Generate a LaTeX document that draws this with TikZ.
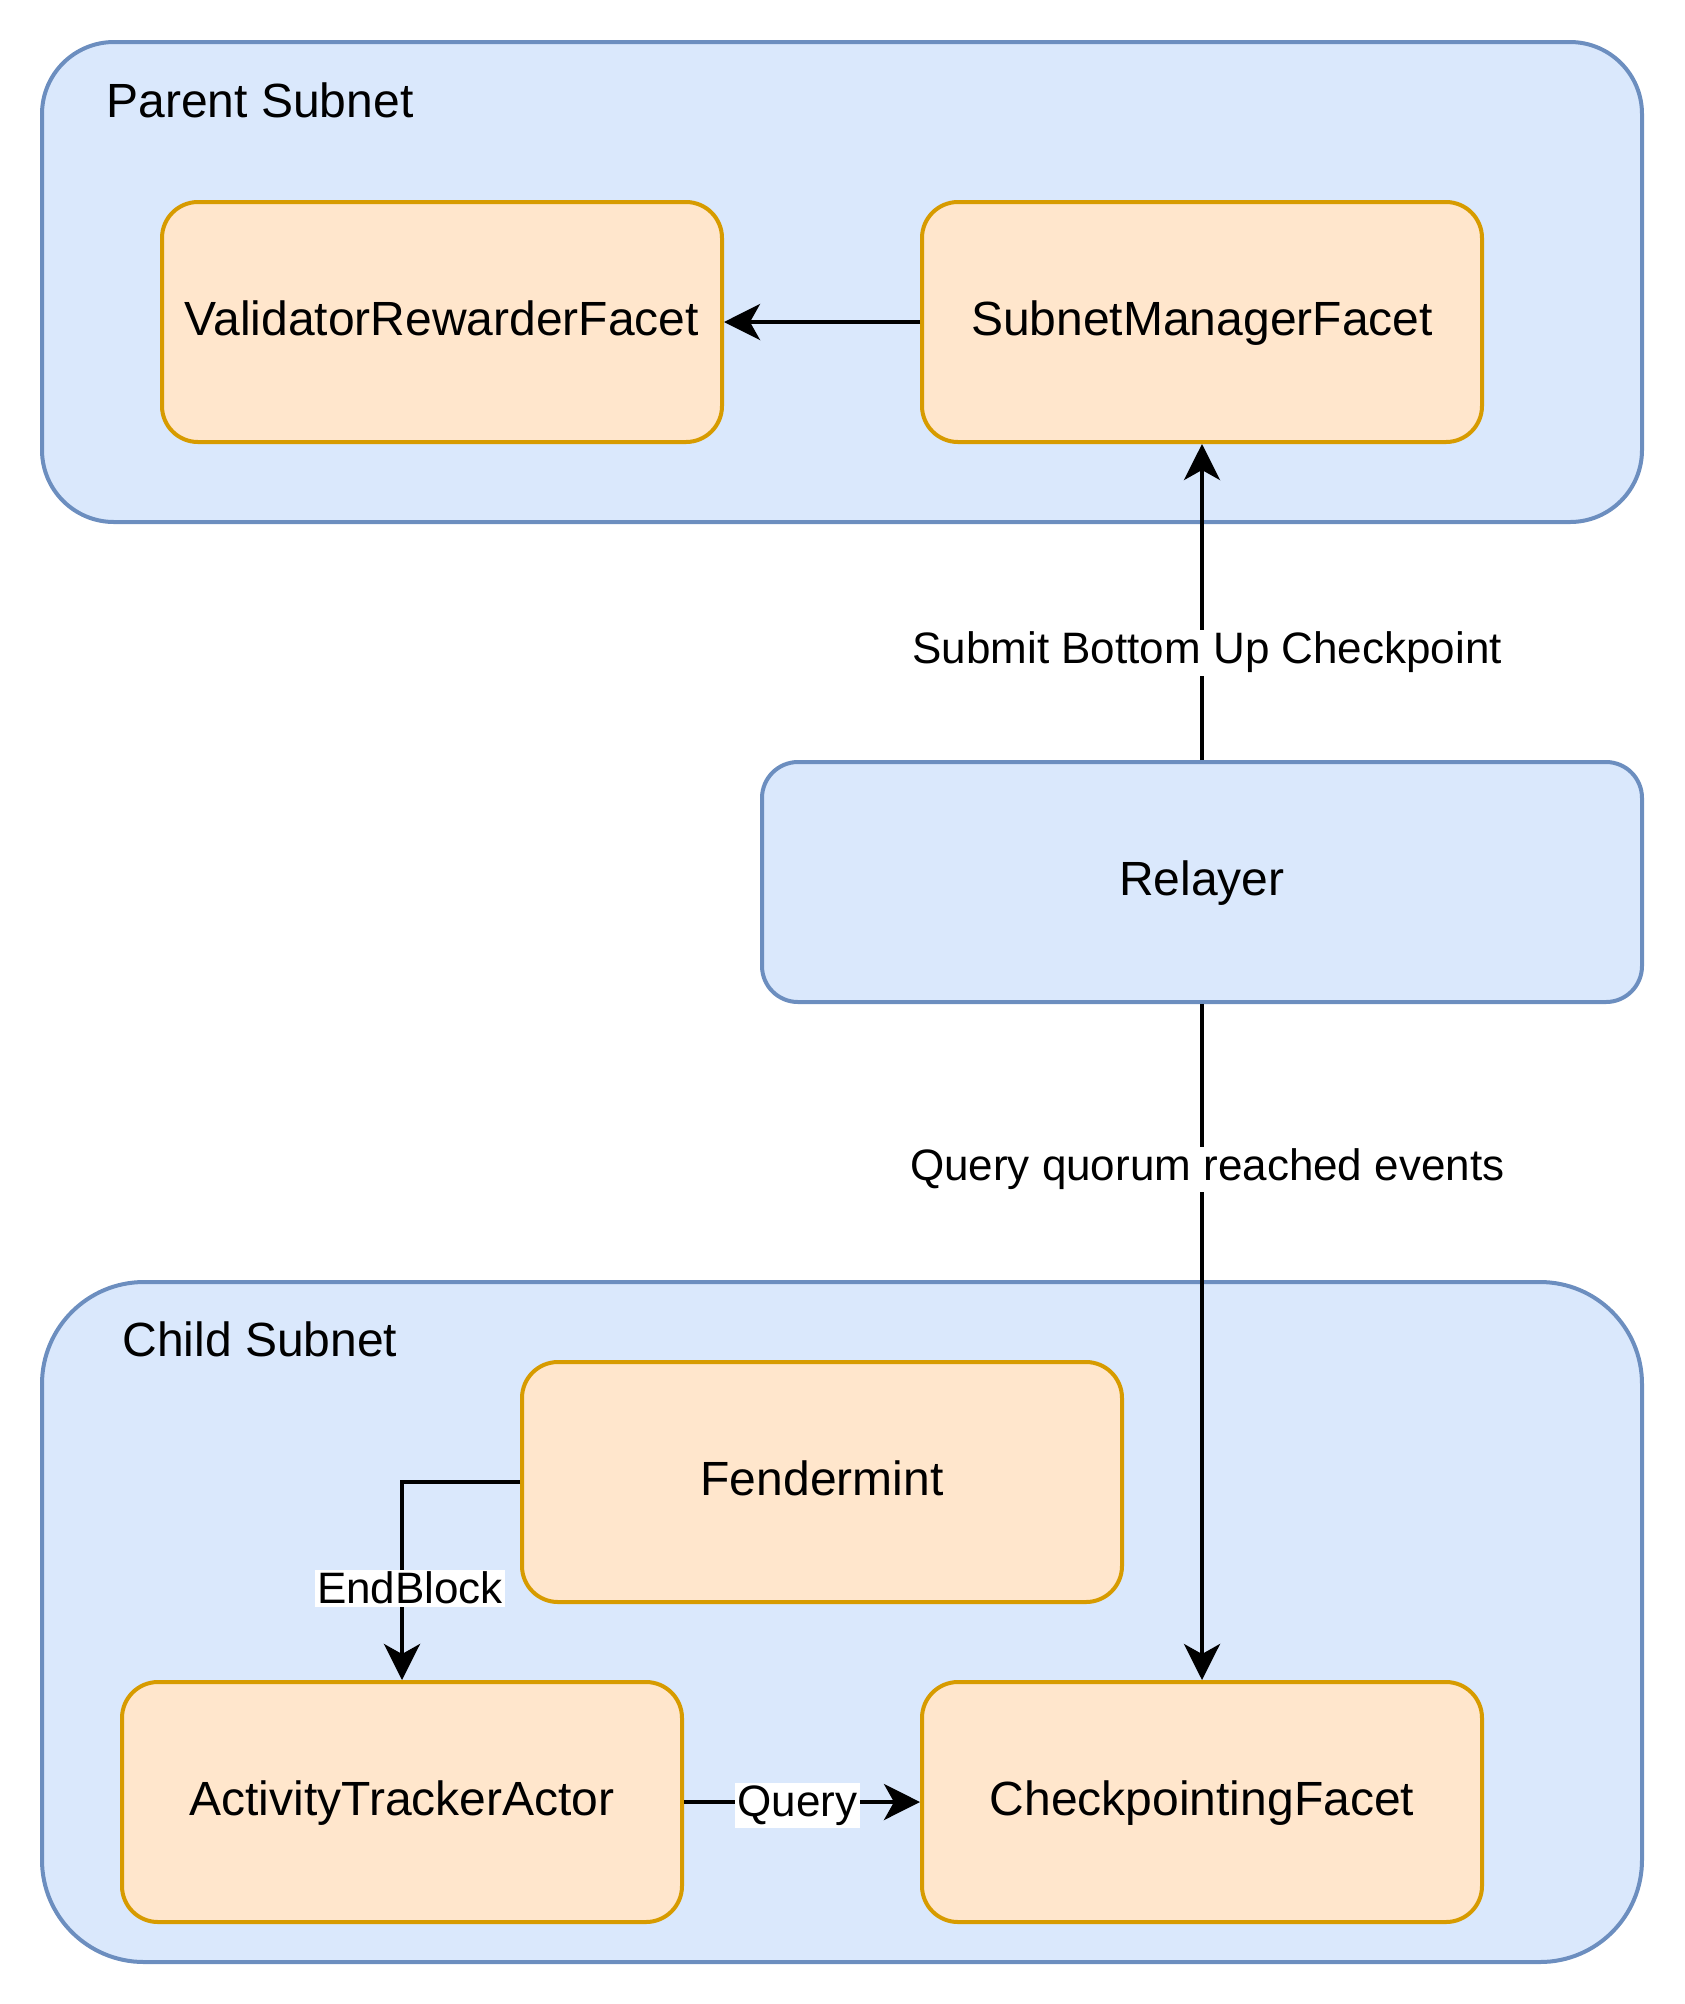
\documentclass[tikz,border=0pt]{standalone}
\usepackage{fontspec}
\setmainfont{Liberation Sans}
\usepackage{xcolor}
\usepackage{tikz}
\usetikzlibrary{arrows.meta}
\definecolor{subnetfill}{HTML}{DAE8FC}
\definecolor{subnetdraw}{HTML}{6C8EBF}
\definecolor{facetfill}{HTML}{FFE6CC}
\definecolor{facetdraw}{HTML}{D79B00}
\tikzset{
    boxnode/.style = {rectangle, align=center, inner sep=0pt, line width=1pt, font=\fontsize{12}{14}\selectfont},
    subnet_box/.style = {boxnode, fill=subnetfill, draw=subnetdraw, rounded corners=18pt, minimum width=400pt},
    relay_node/.style = {boxnode, fill=subnetfill, draw=subnetdraw, rounded corners=9pt, minimum width=220pt, minimum height=60pt, text depth=2pt},
    facet_node/.style = {boxnode, fill=facetfill, draw=facetdraw, rounded corners=9pt, minimum width=140pt, minimum height=60pt, text depth=2pt},
    title_text/.style = {inner sep=0pt, font=\fontsize{12}{14}\selectfont},
    edge_label/.style = {fill=white, inner sep=0.6pt, yshift=-0.8pt, font=\fontsize{11}{13}\selectfont},
    flow/.style = {line width=1pt, -{Stealth[length=9pt, width=9pt, inset=2.5pt]}}
}
\begin{document}
\begin{tikzpicture}[x=1pt, y=-1pt]
    \useasboundingbox (-10.5,-10.5) rectangle (410.5,490.5);

    % parent subnet
    \node [subnet_box, minimum height=120pt] (parent) at (200,60) {};
    \node [title_text] (parent_title) at (54.5,14.5) {Parent Subnet};
    \node [facet_node] (rewarder) at (100,70) {ValidatorRewarderFacet};
    \node [facet_node] (manager) at (290,70) {SubnetManagerFacet};

    % relayer
    \node [relay_node] (relayer) at (290,210) {Relayer};

    % child subnet
    \node [subnet_box, rounded corners=25.5pt, minimum height=170pt] (child) at (200,395) {};
    \node [title_text] (child_title) at (54.5,324.3) {Child Subnet};
    \node [facet_node, minimum width=150pt] (fendermint) at (195,360) {Fendermint};
    \node [facet_node] (tracker) at (90,440) {ActivityTrackerActor};
    \node [facet_node] (checkpointing) at (290,440) {CheckpointingFacet};

    \draw [flow] (manager.west) -- (rewarder.east);
    \draw [flow] (relayer.north) -- node [edge_label, pos=0.35, xshift=1.3pt] {Submit Bottom Up Checkpoint} (manager.south);
    \draw [flow] (relayer.south) -- node [edge_label, pos=0.24, xshift=1.3pt] {Query quorum reached events} (checkpointing.north);
    \draw [flow] (fendermint.west) -| node [edge_label, pos=0.76, xshift=2pt] {EndBlock} (tracker.north);
    \draw [flow] (tracker.east) -- node [edge_label, pos=0.48] {Query} (checkpointing.west);
\end{tikzpicture}
\end{document}
